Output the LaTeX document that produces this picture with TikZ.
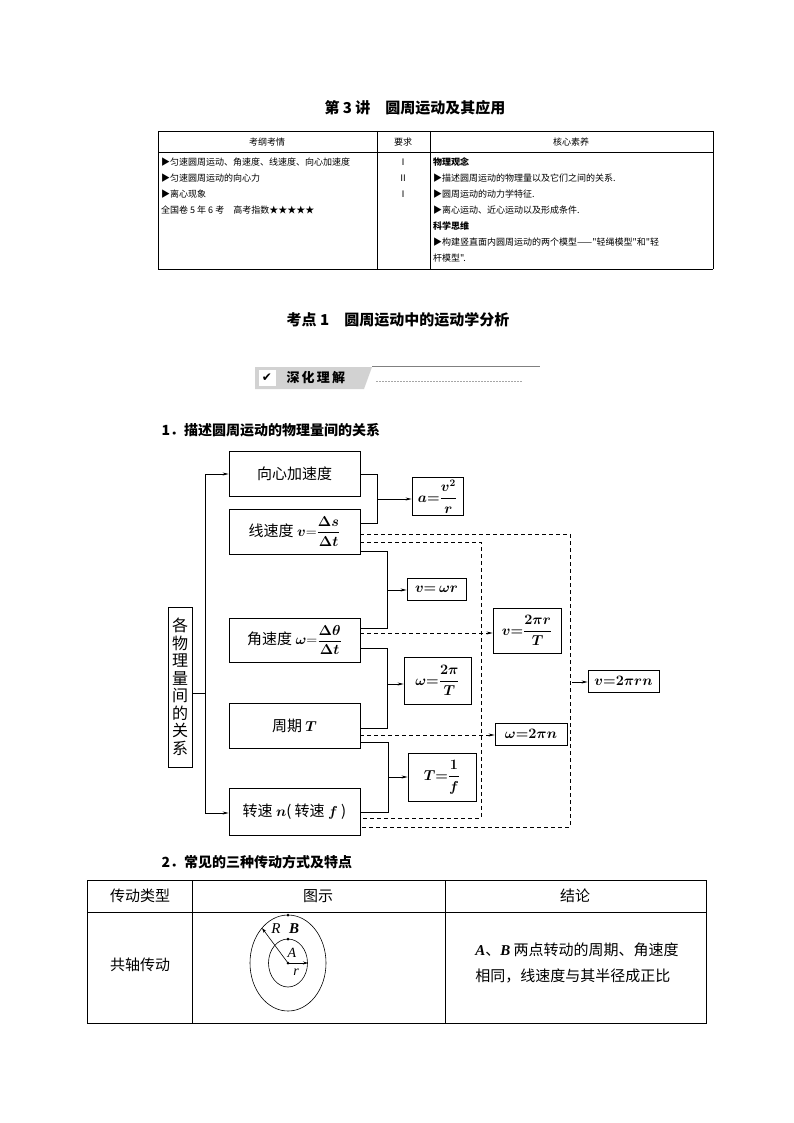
\documentclass[tikz,border=0pt]{standalone}
\usepackage{amsmath}
\usepackage{fontspec}
\setmainfont{Liberation Serif}
\newfontfamily\cjk{Noto Sans CJK SC}
\newfontfamily\djv{DejaVu Sans}
\usetikzlibrary{arrows.meta}
\begin{document}
\begin{tikzpicture}[x=1pt,y=-1pt,
  bx/.style={draw,line width=0.8pt,inner sep=0pt,font=\cjk\fontsize{15}{15}\selectfont},
  rb/.style={draw,line width=0.8pt,inner sep=2pt,font=\boldmath\fontsize{14}{14}\selectfont},
  ln/.style={line width=0.7pt},
  ar/.style={line width=0.7pt,-{Stealth[length=6pt,width=3pt]}},
  da/.style={line width=0.7pt,dashed,dash pattern=on 4pt off 3pt},
  tx/.style={font=\cjk\fontsize{9}{11}\selectfont,inner sep=0pt,anchor=west}]
\useasboundingbox (0,0) rectangle (794,1123);
\fill[white] (0,0) rectangle (794,1123);
% title
\node[font=\cjk\bfseries\fontsize{15}{15}\selectfont] (title) at (415,108) {第 3 讲\quad 圆周运动及其应用};
% top table
\draw[line width=0.8pt] (158,131) -- (713,131) (158,269) -- (713,269);
\draw[line width=0.4pt] (158,131) -- (158,269) (713,131) -- (713,269) (377,131) -- (377,269) (430,131) -- (430,269) (158,152) -- (713,152);
\node[tx,anchor=center] (h1) at (267,142) {考纲考情};
\node[tx,anchor=center] (h2) at (403,142) {要求};
\node[tx,anchor=center] (h3) at (571,142) {核心素养};
\node[tx] (l1) at (161,162) {▶匀速圆周运动、角速度、线速度、向心加速度};
\node[tx] (l2) at (161,178) {▶匀速圆周运动的向心力};
\node[tx] (l3) at (161,194) {▶离心现象};
\node[tx] (l4) at (161,210) {全国卷 5 年 6 考\quad 高考指数★★★★★};
\node[tx,anchor=center] (r1) at (403,162) {Ⅰ};
\node[tx,anchor=center] (r2) at (403,178) {Ⅱ};
\node[tx,anchor=center] (r3) at (403,194) {Ⅰ};
\node[tx,font=\cjk\bfseries\fontsize{9}{11}\selectfont] (c1) at (433,162) {物理观念};
\node[tx] (c2) at (433,178) {▶描述圆周运动的物理量以及它们之间的关系.};
\node[tx] (c3) at (433,194) {▶圆周运动的动力学特征.};
\node[tx] (c4) at (433,210) {▶离心运动、近心运动以及形成条件.};
\node[tx,font=\cjk\bfseries\fontsize{9}{11}\selectfont] (c5) at (433,226) {科学思维};
\node[tx] (c6) at (433,242) {▶构建竖直面内圆周运动的两个模型——"轻绳模型"和"轻};
\node[tx] (c7) at (433,258) {杆模型".};
% section
\node[font=\cjk\bfseries\fontsize{15}{15}\selectfont] (sec) at (398,320) {考点 1\quad 圆周运动中的运动学分析};
% banner
\fill[gray!35] (255,367) -- (372,367) -- (364,389) -- (255,389) -- cycle;
\fill[white] (259,370) rectangle (276,386);
\node[font=\djv\fontsize{12}{12}\selectfont] (chk) at (267,378) {✔};
\node[font=\cjk\bfseries\fontsize{13}{13}\selectfont,anchor=west] (ban) at (283,378) {深\,化\,理\,解};
\draw[gray,line width=0.6pt] (372,366) -- (540,366);
\draw[gray!70,dashed,dash pattern=on 2pt off 1pt] (376,381) -- (522,381);
% heading 1
\node[font=\cjk\bfseries\fontsize{14}{14}\selectfont,anchor=west] (hd1) at (158,430) {1．描述圆周运动的物理量间的关系};
% diagram
\node[bx,minimum width=24pt,minimum height=160pt,align=center,font=\cjk\fontsize{16}{17.5}\selectfont] (L) at (180,687) {各\\物\\理\\量\\间\\的\\关\\系};
\node[bx,minimum width=131pt,minimum height=45pt] (B1) at (294.5,473.5) {向心加速度};
\node[bx,minimum width=131pt,minimum height=45pt] (B2) at (294.5,531.5) {线速度 $\boldsymbol{v}{=}\dfrac{\boldsymbol{\Delta s}}{\boldsymbol{\Delta t}}$};
\node[bx,minimum width=131pt,minimum height=44pt] (B3) at (294.5,640) {角速度 $\boldsymbol{\omega}{=}\dfrac{\boldsymbol{\Delta\theta}}{\boldsymbol{\Delta t}}$};
\node[bx,minimum width=131pt,minimum height=45pt] (B4) at (294.5,725.5) {周期 $\boldsymbol{T}$};
\node[bx,minimum width=131pt,minimum height=47pt] (B5) at (294.5,811.5) {转速 $\boldsymbol{n}$( 转速 $\boldsymbol{f}$ )};
\node[rb,minimum width=51pt,minimum height=37pt] (R1) at (437.5,496.5) {$a{=}\dfrac{v^2}{r}$};
\node[rb,minimum width=59pt,minimum height=22pt] (R2) at (436.5,589) {$v{=}\,\omega r$};
\node[rb,minimum width=67pt,minimum height=47pt] (R3) at (437.5,680.5) {$\omega{=}\dfrac{2\pi}{T}$};
\node[rb,minimum width=68pt,minimum height=48pt] (R4) at (442,777) {$T{=}\dfrac{1}{f}$};
\node[rb,minimum width=68pt,minimum height=45pt] (R5) at (527,630.5) {$v{=}\dfrac{2\pi r}{T}$};
\node[rb,minimum width=72pt,minimum height=22pt] (R6) at (531,734) {$\omega{=}2\pi n$};
\node[rb,minimum width=71pt,minimum height=22pt] (R7) at (623.5,681) {$v{=}2\pi rn$};
\coordinate (T1) at (205,474);
\coordinate (T2) at (205,813);
\draw[ln] (L.east |- 0,693) -- (205,693);
\draw[ln] (T1) -- (T2);
\draw[ar] (T1) -- (B1.west |- 0,474);
\draw[ar] (T2) -- (B5.west |- 0,813);
% brackets
\draw[ln] (B1.east |- 0,474) -- (377,474) -- (377,523) -- (B2.east |- 0,523);
\draw[ar] (377,499) -- (R1.west |- 0,499);
\draw[ln] (B2.east |- 0,551) -- (387,551) -- (387,628) -- (B3.east |- 0,628);
\draw[ar] (387,590) -- (R2.west |- 0,590);
\draw[ln] (B3.east |- 0,648) -- (387,648) -- (387,728) -- (B4.east |- 0,728);
\draw[ar] (387,684) -- (R3.west |- 0,684);
\draw[ln] (B4.east |- 0,742) -- (388,742) -- (388,812) -- (B5.east |- 0,812);
\draw[ar] (388,777) -- (R4.west |- 0,777);
% dashed
\draw[da] (B2.east |- 0,542) -- (481,542) -- (481,818) -- (B5.east |- 0,818);
\draw[da] (B2.east |- 0,534) -- (570,534) -- (570,827) -- (B5.east |- 0,827);
\draw[da] (B3.east |- 0,633) -- (486,633);
\draw[ar] (486,633) -- (R5.west |- 0,633);
\draw[da] (B4.east |- 0,735) -- (488,735);
\draw[ar] (488,735) -- (R6.west |- 0,735);
\draw[ar] (572,682) -- (R7.west |- 0,682);
% heading 2
\node[font=\cjk\bfseries\fontsize{14}{14}\selectfont,anchor=west] (hd2) at (158,862) {2．常见的三种传动方式及特点};
% bottom table
\draw[line width=0.7pt] (87,880) rectangle (706,1023);
\draw[line width=0.7pt] (87,912) -- (706,912) (192,880) -- (192,1023) (445,880) -- (445,1023);
\node[font=\cjk\fontsize{15}{15}\selectfont] (t1) at (140,896) {传动类型};
\node[font=\cjk\fontsize{15}{15}\selectfont] (t2) at (318,896) {图示};
\node[font=\cjk\fontsize{15}{15}\selectfont] (t3) at (575,896) {结论};
\node[font=\cjk\fontsize{15}{15}\selectfont] (t4) at (140,965) {共轴传动};
\node[font=\cjk\fontsize{15}{26}\selectfont,align=left] (t5) at (577,963) {{\rmfamily\bfseries\itshape A}、{\rmfamily\bfseries\itshape B} 两点转动的周期、角速度\\相同，线速度与其半径成正比};
\coordinate (O) at (288,963);
\draw[line width=0.6pt] (O) ellipse [x radius=38,y radius=48];
\draw[line width=0.6pt] (O) ellipse [x radius=19.5,y radius=24];
\fill (288,915) circle (1.5pt) (288,939) circle (1.5pt) (O) circle (1.5pt);
\draw[line width=0.6pt,-{Stealth[length=5pt,width=3pt]}] (O) -- (262,928);
\draw[line width=0.6pt,-{Stealth[length=5pt,width=3pt]}] (O) -- (308,963);
\node[font=\itshape\fontsize{15}{15}\selectfont] (Rl) at (276,929) {R};
\node[font=\bfseries\itshape\fontsize{15}{15}\selectfont] (Bl) at (294,929) {B};
\node[font=\itshape\fontsize{14}{14}\selectfont] (Al) at (292,953) {A};
\node[font=\itshape\fontsize{14}{14}\selectfont] (rl) at (296,972) {r};
\end{tikzpicture}
\end{document}
